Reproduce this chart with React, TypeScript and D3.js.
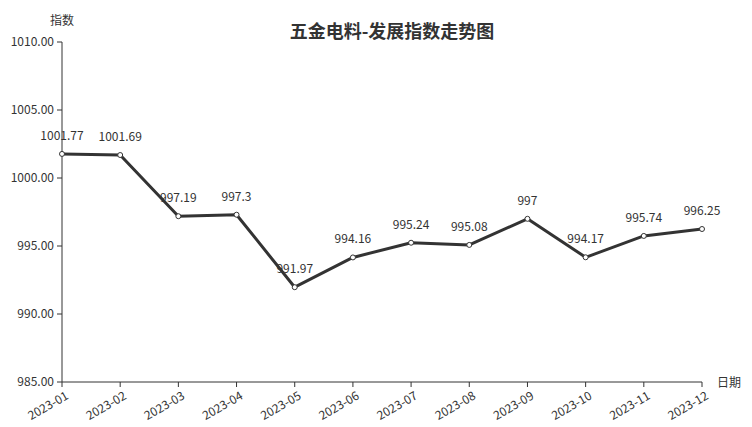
import React from "react";
import * as d3 from "d3";

const categories = ["2023-01","2023-02","2023-03","2023-04","2023-05","2023-06","2023-07","2023-08","2023-09","2023-10","2023-11","2023-12"];
const values = [1001.77, 1001.69, 997.19, 997.3, 991.97, 994.16, 995.24, 995.08, 997, 994.17, 995.74, 996.25];
const yTicks = [985, 990, 995, 1000, 1005, 1010];

const W = 752, H = 427;
const left = 62, right = 702, top = 42, bottom = 382;
const FONT = "'Noto Sans CJK SC', 'Noto Sans', sans-serif";
const C = "#333";

export default function App() {
  const x = d3.scalePoint<string>().domain(categories).range([left, right]);
  const y = d3.scaleLinear().domain([985, 1010]).range([bottom, top]);
  const line = d3.line<number>().x((_, i) => x(categories[i])!).y(d => y(d));
  return (
    <svg width={W} height={H} style={{ position: "absolute", left: 0, top: 0 }} fontFamily={FONT}>
      <rect width={W} height={H} fill="#fff" />
      <text x={392} y={38} textAnchor="middle" fontSize={18} fontWeight="bold" fill={C}>五金电料-发展指数走势图</text>
      <text x={62} y={25} textAnchor="middle" fontSize={12} fill={C}>指数</text>
      <text x={717} y={387} fontSize={12} fill={C}>日期</text>
      <line x1={left} x2={left} y1={top} y2={bottom} stroke={C} strokeWidth={1} />
      {yTicks.map(t => (
        <g key={t}>
          <line x1={left - 5} x2={left} y1={y(t)} y2={y(t)} stroke={C} />
          <text x={left - 8} y={y(t)} dy="0.35em" textAnchor="end" fontSize={12} fill={C}>{t.toFixed(2)}</text>
        </g>
      ))}
      <line x1={left} x2={right} y1={bottom} y2={bottom} stroke={C} strokeWidth={1} />
      {categories.map(c => (
        <g key={c}>
          <line x1={x(c)} x2={x(c)} y1={bottom} y2={bottom + 5} stroke={C} />
          <text transform={`translate(${x(c)! + 3},${bottom + 9}) rotate(-30)`} textAnchor="end" dy="0.7em" fontSize={12} fill={C}>{c}</text>
        </g>
      ))}
      <path d={line(values)!} fill="none" stroke={C} strokeWidth={3} strokeLinejoin="round" />
      {values.map((v, i) => (
        <g key={i}>
          <circle cx={x(categories[i])} cy={y(v)} r={2.5} fill="#fff" stroke={C} strokeWidth={1} />
          <text x={x(categories[i])} y={y(v) - 14} textAnchor="middle" fontSize={12} fill={C}>{String(v)}</text>
        </g>
      ))}
    </svg>
  );
}
